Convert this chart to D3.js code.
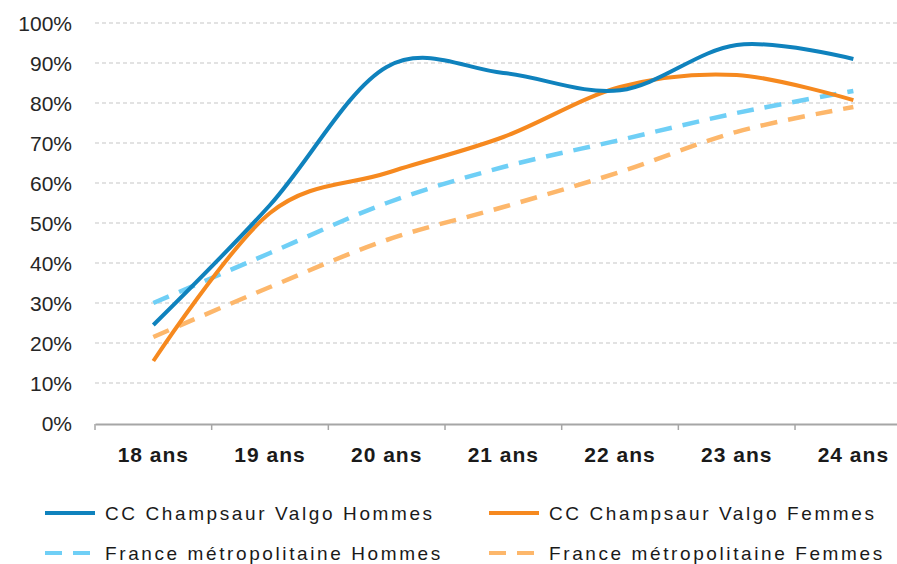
<!DOCTYPE html>
<html>
<head>
<meta charset="utf-8">
<script src="https://cdn.jsdelivr.net/npm/d3@7"></script>
<style>
body { margin: 0; background: #fff; }
svg { display: block; }
</style>
</head>
<body>
<script>
// categories and series
var categories = ["18 ans", "19 ans", "20 ans", "21 ans", "22 ans", "23 ans", "24 ans"];
var ccHommes = [0.245, 0.545, 0.89, 0.875, 0.832, 0.945, 0.91];
var ccFemmes = [0.155, 0.525, 0.625, 0.715, 0.84, 0.87, 0.807];
var franceHommes = [0.30, 0.425, 0.55, 0.64, 0.7075, 0.775, 0.83];
var franceFemmes = [0.215, 0.34, 0.4575, 0.54, 0.6275, 0.728, 0.79];
var yTicks = [0, 0.1, 0.2, 0.3, 0.4, 0.5, 0.6, 0.7, 0.8, 0.9, 1];
var seriesNames = ["CC Champsaur Valgo Hommes", "CC Champsaur Valgo Femmes",
                   "France métropolitaine Hommes", "France métropolitaine Femmes"];

var W = 897, H = 564;

var svg = d3.select("body").append("svg")
  .attr("width", W)
  .attr("height", H);

var x = d3.scaleBand().domain(categories).range([95, 911.7]).padding(0);
var y = d3.scaleLinear().domain([0, 1]).range([423, 23]);

// gridlines
svg.append("g").selectAll("line")
  .data(yTicks.filter(function(d){ return d > 0; }))
  .enter().append("line")
  .attr("x1", 95).attr("x2", W)
  .attr("y1", function(d){ return y(d); })
  .attr("y2", function(d){ return y(d); })
  .style("stroke", "#d9d9d9")
  .style("stroke-width", 1.3)
  .style("stroke-dasharray", "4,3");

// y axis labels
var yAxis = d3.axisLeft(y).tickValues(yTicks).tickSize(0).tickPadding(0)
  .tickFormat(d3.format(".0%"));
var yg = svg.append("g").attr("transform", "translate(72,0)").call(yAxis);
yg.select(".domain").remove();
yg.selectAll("text")
  .attr("dy", "0.35em")
  .style("font-family", "'Liberation Sans', Arial, sans-serif")
  .style("font-size", "21px")
  .style("fill", "#262626");

// x axis
var xAxis = d3.axisBottom(x).tickSize(0).tickPadding(0);
var xg = svg.append("g").attr("transform", "translate(0,424)").call(xAxis);
xg.select(".domain").style("stroke", "#a6a6a6").style("stroke-width", 2);
xg.selectAll("text")
  .attr("y", 38)
  .attr("dy", 0)
  .style("font-family", "'Liberation Sans', Arial, sans-serif")
  .style("font-weight", "bold")
  .style("font-size", "21px")
  .style("letter-spacing", "1px")
  .style("fill", "#1a1a1a");

// tick marks sit between the categories
xg.selectAll(".bound")
  .data(categories)
  .enter().append("line")
  .attr("class", "bound")
  .attr("x1", function(d){ return x(d); })
  .attr("x2", function(d){ return x(d); })
  .attr("y1", 0).attr("y2", 6)
  .style("stroke", "#a6a6a6")
  .style("stroke-width", 1.5);

var line = d3.line()
  .x(function(d, i){ return x(categories[i]) + x.bandwidth() / 2; })
  .y(function(d){ return y(d); })
  .curve(d3.curveCardinal.tension(0));

var series = [
  {name: seriesNames[2], values: franceHommes, color: "#6fcff6", dash: "17,11", w: 4.5},
  {name: seriesNames[3], values: franceFemmes, color: "#fdb76b", dash: "17,11", w: 4.5},
  {name: seriesNames[1], values: ccFemmes, color: "#f6891f", dash: null, w: 4},
  {name: seriesNames[0], values: ccHommes, color: "#0f82bd", dash: null, w: 4}
];

svg.append("g").selectAll("path")
  .data(series)
  .enter().append("path")
  .attr("d", function(d){ return line(d.values); })
  .style("fill", "none")
  .style("stroke", function(d){ return d.color; })
  .style("stroke-width", function(d){ return d.w; })
  .style("stroke-dasharray", function(d){ return d.dash; });

// legend
var legendItems = [
  {name: seriesNames[0], color: "#0f82bd", dash: null, lx: 45, ly: 513},
  {name: seriesNames[1], color: "#f6891f", dash: null, lx: 489, ly: 513},
  {name: seriesNames[2], color: "#6fcff6", dash: "17,11", lx: 45, ly: 553},
  {name: seriesNames[3], color: "#fdb76b", dash: "17,11", lx: 489, ly: 553}
];

var lg = svg.append("g").selectAll("g")
  .data(legendItems)
  .enter().append("g")
  .attr("transform", function(d){ return "translate(" + d.lx + "," + d.ly + ")"; });

lg.append("line")
  .attr("x1", 0).attr("x2", 50)
  .style("stroke", function(d){ return d.color; })
  .style("stroke-width", 4)
  .style("stroke-dasharray", function(d){ return d.dash; });

lg.append("text")
  .attr("x", 60)
  .attr("dy", "0.35em")
  .text(function(d){ return d.name; })
  .style("font-family", "'Liberation Sans', Arial, sans-serif")
  .style("font-size", "19px")
  .style("letter-spacing", "2.6px")
  .style("fill", "#1a1a1a");
</script>
</body>
</html>
